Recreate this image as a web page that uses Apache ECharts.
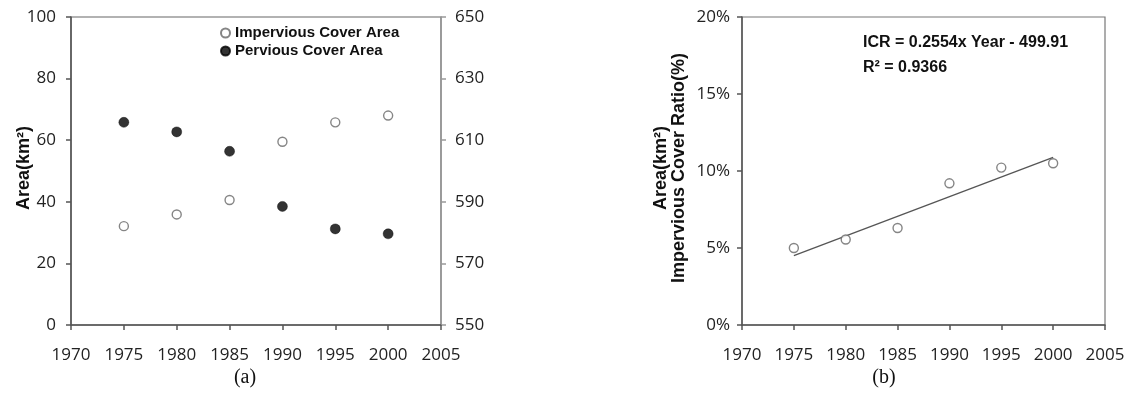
<!DOCTYPE html>
<html>
<head>
<meta charset="utf-8">
<script src="https://cdn.jsdelivr.net/npm/echarts@6/dist/echarts.min.js"></script>
<style>
  html, body { margin: 0; padding: 0; background: #fff; }
  #chart { width: 1131px; height: 412px; }
</style>
</head>
<body>
<div id="chart"></div>
<script>
// Survey years
const years = [1975, 1980, 1985, 1990, 1995, 2000];
// Panel (a): areas in km²
const imperviousArea = [32.1, 35.9, 40.6, 59.5, 65.8, 68.0];   // left axis
const perviousArea = [615.8, 612.7, 606.4, 588.5, 581.2, 579.6]; // right axis
// Panel (b): impervious cover ratio in %
const coverRatio = [5.0, 5.55, 6.3, 9.2, 10.22, 10.5];
// Linear fit shown in panel (b)
const fitSlope = 0.2554;
const fitIntercept = -499.91;
const fitYears = [1975, 2000];

const legendNames = ['Impervious Cover Area', 'Pervious Cover Area'];

const tickFont = { fontFamily: 'Open Sans', fontSize: 17, color: '#222' };
const darkLine = { color: '#555', width: 1.5 };

function pairs(xs, ys) { return xs.map((x, i) => [x, ys[i]]); }

const fitLine = fitYears.map(y => [y, +(fitSlope * y + fitIntercept).toFixed(3)]);

const chart = echarts.init(document.getElementById('chart'), null, { renderer: 'canvas' });

const xAxisBase = {
  type: 'value', min: 1970, max: 2005, interval: 5,
  axisLine: { lineStyle: darkLine },
  axisTick: { show: true, inside: false, length: 5, lineStyle: darkLine },
  axisLabel: Object.assign({ margin: 22, showMinLabel: true, showMaxLabel: true, formatter: v => String(v) }, tickFont),
  splitLine: { show: false }
};

chart.setOption({
  animation: false,
  grid: [
    { left: 71, top: 17, width: 370, height: 308, show: true, borderColor: '#666', borderWidth: 1.2, backgroundColor: 'transparent' },
    { left: 742, top: 17, width: 363, height: 308, show: true, borderColor: '#777', borderWidth: 1.2, backgroundColor: 'transparent' }
  ],
  xAxis: [
    Object.assign({ gridIndex: 0 }, xAxisBase),
    Object.assign({ gridIndex: 1 }, xAxisBase)
  ],
  yAxis: [
    {
      gridIndex: 0, type: 'value', min: 0, max: 100, interval: 20, position: 'left',
      axisLine: { show: true, lineStyle: darkLine },
      axisTick: { show: true, length: 5, lineStyle: darkLine },
      axisLabel: Object.assign({ margin: 15 }, tickFont),
      splitLine: { show: false }
    },
    {
      gridIndex: 0, type: 'value', min: 550, max: 650, interval: 20, position: 'right',
      axisLine: { show: true, lineStyle: { color: '#999', width: 1.5 } },
      axisTick: { show: true, length: 5, lineStyle: { color: '#999', width: 1.5 } },
      axisLabel: Object.assign({ margin: 14 }, tickFont),
      splitLine: { show: false }
    },
    {
      gridIndex: 1, type: 'value', min: 0, max: 20, interval: 5, position: 'left',
      axisLine: { show: true, lineStyle: darkLine },
      axisTick: { show: true, length: 5, lineStyle: darkLine },
      axisLabel: Object.assign({ margin: 12, formatter: '{value}%' }, tickFont),
      splitLine: { show: false }
    }
  ],
  legend: {
    data: legendNames,
    orient: 'vertical',
    left: 220, top: 24, padding: 0,
    itemWidth: 9, itemHeight: 9, itemGap: 0,
    icon: 'circle',
    textStyle: { fontFamily: 'Liberation Sans', fontWeight: 'bold', fontSize: 15, color: '#111', lineHeight: 18 }
  },
  series: [
    {
      name: legendNames[0], type: 'scatter', xAxisIndex: 0, yAxisIndex: 0,
      symbol: 'circle', symbolSize: 9,
      itemStyle: { color: '#fff', borderColor: '#666', borderWidth: 1.4 },
      data: pairs(years, imperviousArea)
    },
    {
      name: legendNames[1], type: 'scatter', xAxisIndex: 0, yAxisIndex: 1,
      symbol: 'circle', symbolSize: 10,
      itemStyle: { color: '#000', borderColor: '#000', borderWidth: 0.5 },
      data: pairs(years, perviousArea)
    },
    {
      name: 'ICR fit', type: 'line', xAxisIndex: 1, yAxisIndex: 2,
      showSymbol: false, symbol: 'none',
      lineStyle: { color: '#555', width: 1.3 },
      data: fitLine, z: 1
    },
    {
      name: 'Impervious Cover Ratio', type: 'scatter', xAxisIndex: 1, yAxisIndex: 2,
      symbol: 'circle', symbolSize: 9,
      itemStyle: { color: '#fff', borderColor: '#666', borderWidth: 1.4 },
      data: pairs(years, coverRatio), z: 3
    }
  ],
  graphic: [
    {
      type: 'text', x: 24, y: 168, rotation: Math.PI / 2,
      style: { text: 'Area(km²)', fontFamily: 'Liberation Sans', fontWeight: 'bold', fontSize: 18, fill: '#111', align: 'center', verticalAlign: 'middle' }
    },
    {
      type: 'text', x: 661, y: 168, rotation: Math.PI / 2,
      style: { text: 'Area(km²)', fontFamily: 'Liberation Sans', fontWeight: 'bold', fontSize: 18, fill: '#111', align: 'center', verticalAlign: 'middle' }
    },
    {
      type: 'text', x: 679, y: 168, rotation: Math.PI / 2,
      style: { text: 'Impervious Cover Ratio(%)', fontFamily: 'Liberation Sans', fontWeight: 'bold', fontSize: 18, fill: '#111', align: 'center', verticalAlign: 'middle' }
    },
    {
      type: 'text', x: 863, y: 43,
      style: { text: 'ICR = ' + fitSlope + 'x Year - ' + Math.abs(fitIntercept), fontFamily: 'Liberation Sans', fontWeight: 'bold', fontSize: 16, fill: '#111', align: 'left', verticalAlign: 'middle' }
    },
    {
      type: 'text', x: 863, y: 68,
      style: { text: 'R² = 0.9366', fontFamily: 'Liberation Sans', fontWeight: 'bold', fontSize: 16, fill: '#111', align: 'left', verticalAlign: 'middle' }
    },
    {
      type: 'text', x: 245, y: 378,
      style: { text: '(a)', fontFamily: 'Liberation Serif', fontSize: 20, fill: '#111', align: 'center', verticalAlign: 'middle' }
    },
    {
      type: 'text', x: 884, y: 378,
      style: { text: '(b)', fontFamily: 'Liberation Serif', fontSize: 20, fill: '#111', align: 'center', verticalAlign: 'middle' }
    }
  ]
});
</script>
</body>
</html>
